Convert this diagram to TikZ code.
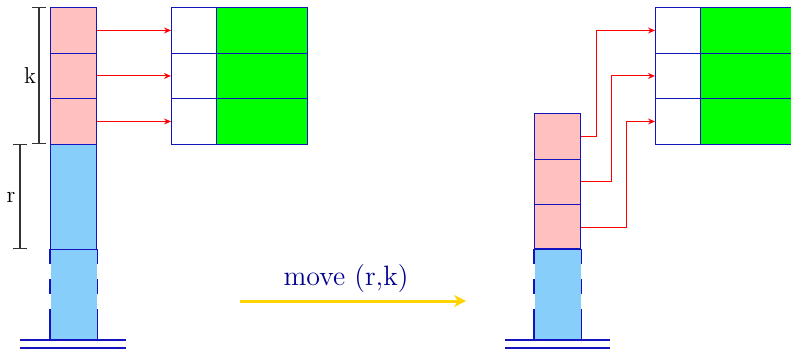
\documentclass[tikz,border=0pt]{standalone}
\usetikzlibrary{arrows.meta}
\definecolor{cellpink}{RGB}{255,192,192}
\definecolor{cellblue}{RGB}{135,206,250}
\definecolor{cellgreen}{RGB}{0,255,0}
\definecolor{edge}{RGB}{20,20,190}
\definecolor{textblue}{RGB}{0,0,140}
\definecolor{movegold}{RGB}{255,212,0}
\tikzset{
  cell/.style={draw=edge, line width=0.7pt, inner sep=0pt, anchor=north west,
    minimum width=23pt, minimum height=22.75pt},
  frame/.style={cell, fill=cellpink},
  data/.style={cell, fill=cellgreen, minimum width=45.5pt},
  link/.style={red, line width=0.5pt, -{Stealth[length=3.5pt,width=3pt]}},
  span/.style={black!80, line width=0.6pt, {Bar[width=7pt]}-{Bar[width=7pt]}},
  ground/.style={edge, line width=0.7pt}
}
\begin{document}
\begin{tikzpicture}[x=0.5pt, y=-0.5pt]
  \useasboundingbox (0,0) rectangle (791,349);
  % stack before the move
  \node[frame] (L1) at (50,7) {};
  \node[frame] (L2) at (50,52.5) {};
  \node[frame] (L3) at (50,98) {};
  \node[cell, fill=cellblue, minimum height=52.5pt] (L4) at (50,144) {};
  \node[cell, fill=cellblue, draw=none, minimum height=45.5pt] (L5) at (50,249) {};
  \draw[edge, line width=0.7pt, dash pattern=on 7.5pt off 7.5pt on 7.5pt off 7.5pt on 15pt]
    (L5.north west) -- (L5.south west) (L5.north east) -- (L5.south east);
  \draw[ground] (20,340) -- (126,340) (20,348) -- (126,348);
  % stack after the move
  \node[frame] (R1) at (534,113) {};
  \node[frame] (R2) at (534,158.5) {};
  \node[frame] (R3) at (534,204) {};
  \node[cell, fill=cellblue, draw=none, minimum height=45.5pt] (R4) at (534,249) {};
  \draw[edge, line width=0.7pt, dash pattern=on 7.5pt off 7.5pt on 7.5pt off 7.5pt on 15pt]
    (R4.north west) -- (R4.south west) (R4.north east) -- (R4.south east);
  \draw[edge, line width=0.7pt] (R4.north west) -- (R4.north east);
  \draw[ground] (505,340) -- (610,340) (505,348) -- (610,348);
  % tables
  \foreach \i/\y in {1/7,2/52.5,3/98} {
    \node[cell, fill=white] (P\i) at (171,\y) {};
    \node[data] (G\i) at (216,\y) {};
    \node[cell, fill=white] (Q\i) at (655,\y) {};
    \node[data] (H\i) at (700,\y) {};
  }
  \draw[link] (L1.east) -- (P1.west);
  \draw[link] (L2.east) -- (P2.west);
  \draw[link] (L3.east) -- (P3.west);
  \draw[link] (R1.east) -- ++(15,0) |- (Q1.west);
  \draw[link] (R2.east) -- ++(30,0) |- (Q2.west);
  \draw[link] (R3.east) -- ++(45,0) |- (Q3.west);
  % extents k and r
  \draw[span] (39,7) -- (39,144);
  \node (k) at (30,76) {\fontsize{11.5}{13}\selectfont k};
  \draw[span] (20,144) -- (20,249);
  \node (r) at (11,197) {\fontsize{11.5}{13}\selectfont r};
  % the move itself
  \coordinate (mvA) at (240,301);
  \coordinate (mvB) at (466,301);
  \draw[movegold, line width=1.5pt, -{Stealth[length=6pt,width=6pt]}] (mvA) -- (mvB);
  \node[textblue] (mv) at (346,279) {\fontsize{14}{16}\selectfont move (r,k)};
\end{tikzpicture}
\end{document}
